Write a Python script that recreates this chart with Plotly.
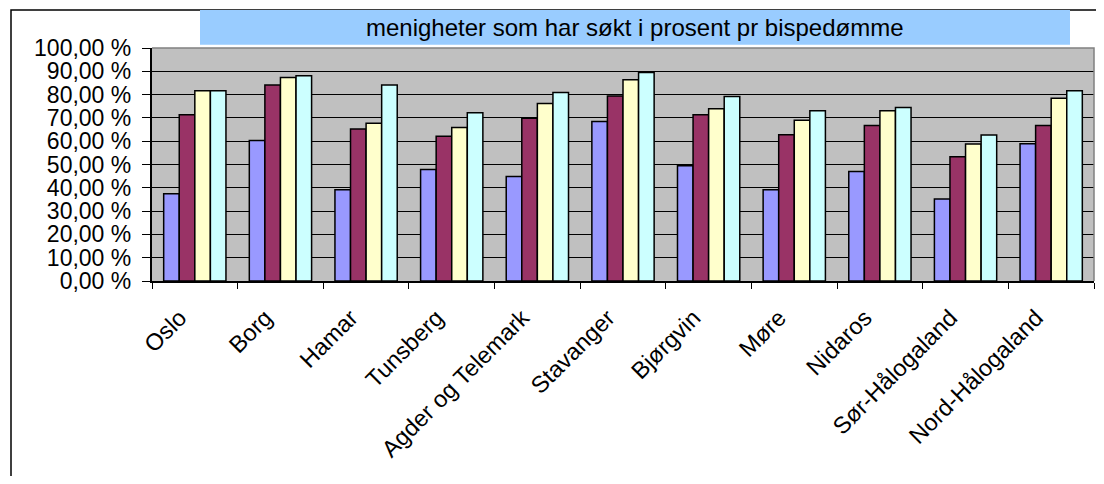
import plotly.graph_objects as go

categories = ["Oslo", "Borg", "Hamar", "Tunsberg", "Agder og Telemark", "Stavanger",
              "Bjørgvin", "Møre", "Nidaros", "Sør-Hålogaland", "Nord-Hålogaland"]
series1 = [37.5, 60.3, 39.2, 47.9, 44.9, 68.5, 49.5, 39.2, 47.0, 35.2, 58.9]
series2 = [71.4, 84.1, 65.2, 62.1, 69.8, 79.4, 71.4, 62.8, 66.7, 53.3, 66.7]
series3 = [81.7, 87.3, 67.7, 65.9, 76.2, 86.4, 73.9, 69.0, 73.1, 58.8, 78.4]
series4 = [81.7, 88.1, 84.1, 72.2, 80.9, 89.5, 79.2, 73.1, 74.5, 62.7, 81.7]
series_names = ["Serie 1", "Serie 2", "Serie 3", "Serie 4"]
colors = ["#9999FF", "#993366", "#FFFFCC", "#CCFFFF"]
title_text = "menigheter som har søkt i prosent pr bispedømme"

OFF = 8  # page body margin
W, H = 1104 - 2 * OFF, 484 - 2 * OFF
L, T = 152 - OFF, 48 - OFF
R = W - (1094 - OFF)
B = H - (281.3 - OFF)
pw = W - L - R
ph = H - T - B

def px_x(x):
    return (x - OFF - L) / pw

def px_y(y):
    return 1 - (y - OFF - T) / ph

fig = go.Figure()
for name, vals, col in zip(series_names, [series1, series2, series3, series4], colors):
    fig.add_trace(go.Bar(x=categories, y=vals, name=name, marker_color=col,
                         marker_line_color="black", marker_line_width=1.5))

font = "Arial, Liberation Sans, sans-serif"

fig.update_layout(
    width=W, height=H,
    margin=dict(l=L, r=R, t=T, b=B, autoexpand=False),
    paper_bgcolor="white",
    plot_bgcolor="#C0C0C0",
    barmode="group",
    bargap=0.2727,
    bargroupgap=0,
    showlegend=False,
    separators=", ",
    font=dict(family=font, size=23, color="black"),
    xaxis=dict(
        tickangle=-45, tickfont=dict(size=23.5, family=font, color="black"),
        showline=True, linecolor="black", linewidth=1.5,
        ticks="outside", ticklen=6, tickcolor="black", tickwidth=1,
        tickson="boundaries", showgrid=False,
        ticklabelstandoff=12, ticklabelshift=-15,
    ),
    yaxis=dict(
        range=[0, 100], dtick=10, tickformat=".2f", ticksuffix=" %\u00a0",
        tickfont=dict(size=23, family=font, color="black"),
        showline=True, linecolor="black", linewidth=1.5,
        ticks="outside", ticklen=8, tickcolor="black", tickwidth=1,
        showgrid=True, gridcolor="black", gridwidth=1,
        zeroline=False,
    ),
    shapes=[
        dict(type="rect", xref="paper", yref="paper",
             x0=px_x(11), x1=px_x(1112), y0=px_y(492), y1=px_y(10),
             line=dict(color="black", width=1.5), fillcolor="rgba(0,0,0,0)", layer="above"),
        dict(type="path", xref="paper", yref="paper",
             path="M 0 1 L 1 1 L 1 0",
             line=dict(color="#808080", width=1.5), layer="above"),
        dict(type="rect", xref="paper", yref="paper",
             x0=px_x(200), x1=px_x(1070), y0=px_y(44.7), y1=px_y(10),
             line=dict(width=0), fillcolor="#99CCFF", layer="above"),
    ],
    annotations=[
        dict(text=title_text, xref="paper", yref="paper",
             x=px_x(635), y=px_y(27.5), xanchor="center", yanchor="middle",
             showarrow=False, font=dict(size=24, family=font, color="black")),
    ],
)

fig.write_html("out.html")
